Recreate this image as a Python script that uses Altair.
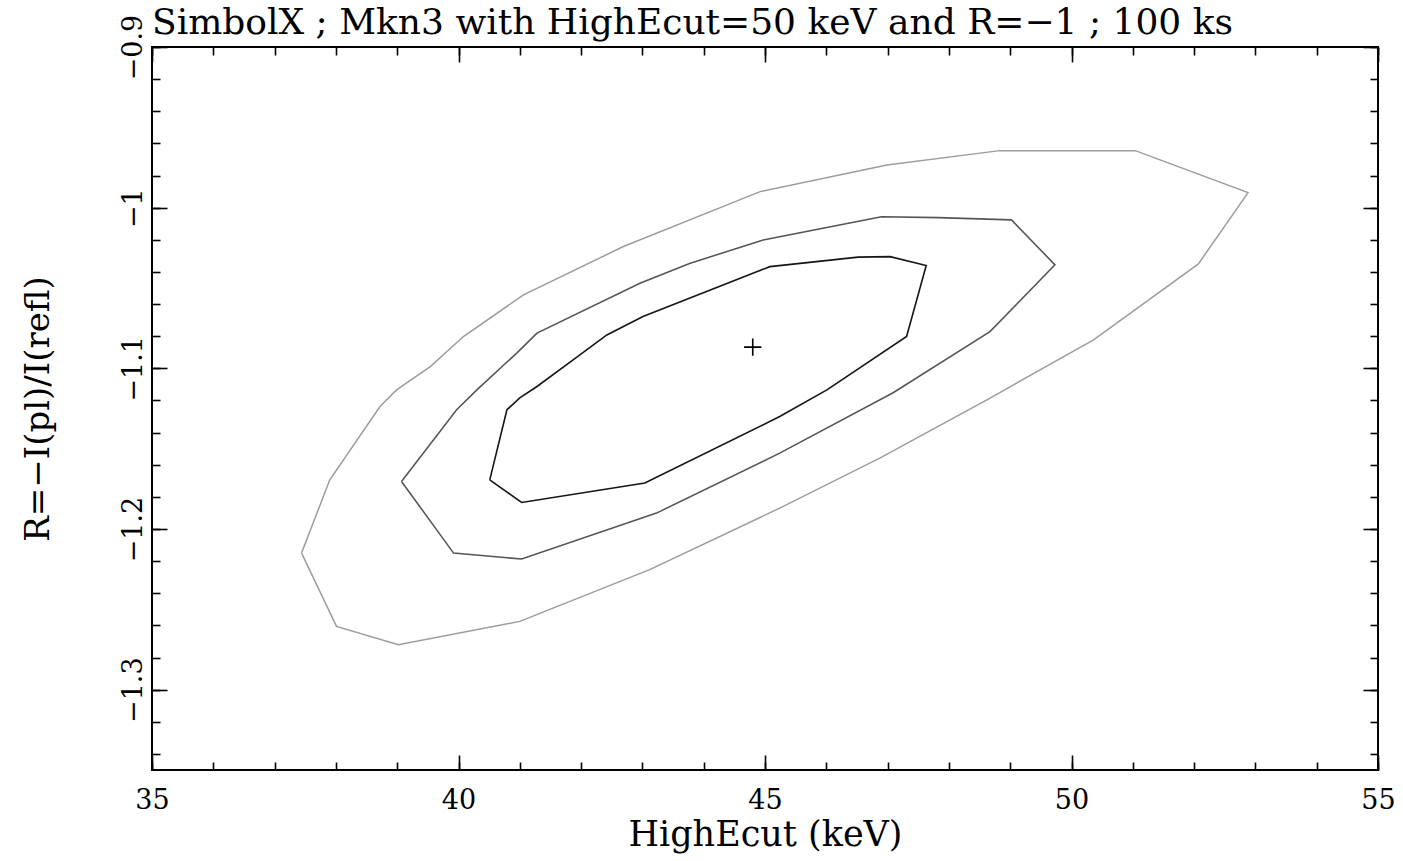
import altair as alt
import pandas as pd

# ---------------- data ----------------
outer_x = [37.44, 37.90, 38.72, 38.99, 39.54, 40.08, 41.06, 42.69, 44.92, 46.99, 48.83,
           51.04, 52.88, 52.07, 50.36, 48.62, 46.88, 45.24, 43.12, 41.00, 39.02, 38.01, 37.44]
outer_y = [-1.2150, -1.1694, -1.1238, -1.1134, -1.0989, -1.0802, -1.0543, -1.0242, -0.9900,
           -0.9734, -0.9645, -0.9645, -0.9906, -1.0350, -1.0823, -1.1196, -1.1557, -1.1870,
           -1.2253, -1.2575, -1.2720, -1.2606, -1.2150]

mid_x = [39.07, 39.97, 40.30, 40.95, 41.28, 42.96, 43.78, 44.97, 46.90, 47.83, 49.02, 49.73,
         48.67, 47.09, 45.24, 43.23, 41.03, 39.92, 39.07]
mid_y = [-1.1704, -1.1258, -1.1134, -1.0905, -1.0781, -1.0470, -1.0346, -1.0201, -1.0056,
         -1.0062, -1.0076, -1.0356, -1.0771, -1.1152, -1.1528, -1.1901, -1.2187, -1.2150, -1.1704]

inner_x = [40.51, 40.79, 41.00, 41.28, 41.87, 42.42, 43.01, 45.08, 46.52, 47.04, 47.63, 47.31,
           46.01, 45.24, 43.04, 41.03, 40.51]
inner_y = [-1.1694, -1.1258, -1.1184, -1.1113, -1.0947, -1.0792, -1.0678, -1.0367, -1.0308,
           -1.0305, -1.0360, -1.0802, -1.1134, -1.1300, -1.1714, -1.1835, -1.1694]

best_x = [44.80]
best_y = [-1.0868]

levels = ["outer", "middle", "inner"]
level_colors = ["#9c9c9c", "#555555", "#151515"]
level_widths = [1.5, 1.6, 2.1]

x_major = [35, 40, 45, 50, 55]
x_minor = list(range(35, 56))
y_major = [-1.3, -1.2, -1.1, -1.0, -0.9]
y_minor = [round(-1.34 + 0.02 * i, 2) for i in range(23)]

title_text = "SimbolX ; Mkn3 with HighEcut=50 keV and R=\u22121 ; 100 ks"
x_title = "HighEcut (keV)"
y_title = "R=\u2212I(pl)/I(refl)"

# ---------------- tables ----------------
rows = []
for name, xs_, ys_ in [("outer", outer_x, outer_y), ("middle", mid_x, mid_y), ("inner", inner_x, inner_y)]:
    for i, (a, b) in enumerate(zip(xs_, ys_)):
        rows.append({"level": name, "ord": i, "x": a, "y": b})
contours = pd.DataFrame(rows)
best = pd.DataFrame({"x": best_x, "y": best_y})

FONT = "DejaVu Serif"
W, H = 1226, 723
X_DOM = [35, 55]
Y_DOM = [-1.35, -0.9]


def xs():
    return alt.Scale(domain=X_DOM, nice=False, zero=False)


def ys():
    return alt.Scale(domain=Y_DOM, nice=False, zero=False)


def tick_axis(orient, values, size):
    return alt.Axis(orient=orient, values=values, offset=-size, tickSize=size, tickWidth=1.6,
                    tickColor="black", domain=False, grid=False, labels=False, title=None)


main_x_axis = alt.Axis(orient="bottom", values=x_major, offset=-15, tickSize=15, tickWidth=1.6,
                       tickColor="black", domain=False, grid=False,
                       labelFont=FONT, labelFontSize=27, labelColor="black", labelPadding=17,
                       labelFlush=False, labelOverlap=False,
                       title=x_title, titleFont=FONT, titleFontSize=35, titleFontWeight="normal",
                       titleColor="black", titlePadding=4)

main_y_axis = alt.Axis(orient="left", values=y_major, offset=-15, tickSize=15, tickWidth=1.6,
                       tickColor="black", domain=False, grid=False,
                       labelFont=FONT, labelFontSize=27, labelColor="black", labelPadding=5,
                       labelAngle=270, labelAlign="center", labelBaseline="bottom",
                       labelFlush=False, labelOverlap=False,
                       labelExpr="format(datum.value, '~g')",
                       title=y_title, titleFont=FONT, titleFontSize=34, titleFontWeight="normal",
                       titleColor="black", titlePadding=64)

lines = alt.Chart(contours).mark_line(interpolate="linear").encode(
    x=alt.X("x:Q", scale=xs(), axis=main_x_axis),
    y=alt.Y("y:Q", scale=ys(), axis=main_y_axis),
    color=alt.Color("level:N", scale=alt.Scale(domain=levels, range=level_colors), legend=None),
    strokeWidth=alt.StrokeWidth("level:N", scale=alt.Scale(domain=levels, range=level_widths), legend=None),
    detail="level:N",
    order="ord:Q",
)

plus = alt.Chart(best).mark_point(shape="M-1,0L1,0M0,-1L0,1", size=300, filled=False,
                                  stroke="black", strokeWidth=1.6, opacity=1).encode(
    x=alt.X("x:Q", scale=xs(), axis=tick_axis("top", x_major, 15)),
    y=alt.Y("y:Q", scale=ys(), axis=tick_axis("right", y_major, 15)),
)

minor_a = alt.Chart(best).mark_point(opacity=0).encode(
    x=alt.X("x:Q", scale=xs(), axis=tick_axis("bottom", x_minor, 8)),
    y=alt.Y("y:Q", scale=ys(), axis=tick_axis("left", y_minor, 8)),
)

minor_b = alt.Chart(best).mark_point(opacity=0).encode(
    x=alt.X("x:Q", scale=xs(), axis=tick_axis("top", x_minor, 8)),
    y=alt.Y("y:Q", scale=ys(), axis=tick_axis("right", y_minor, 8)),
)

chart = alt.layer(lines, plus, minor_a, minor_b).resolve_scale(
    x="independent", y="independent"
).properties(
    width=W, height=H,
    title=alt.TitleParams(text=title_text, anchor="start", frame="group", font=FONT,
                          fontSize=36, fontWeight="normal", color="black", offset=-28),
    autosize=alt.AutoSizeParams(type="none"),
    padding={"left": 152, "top": 47, "right": 25, "bottom": 91},
    background="white",
).configure_view(stroke="black", strokeWidth=2)

chart.save("out.html", embed_options={"renderer": "svg", "actions": False})
